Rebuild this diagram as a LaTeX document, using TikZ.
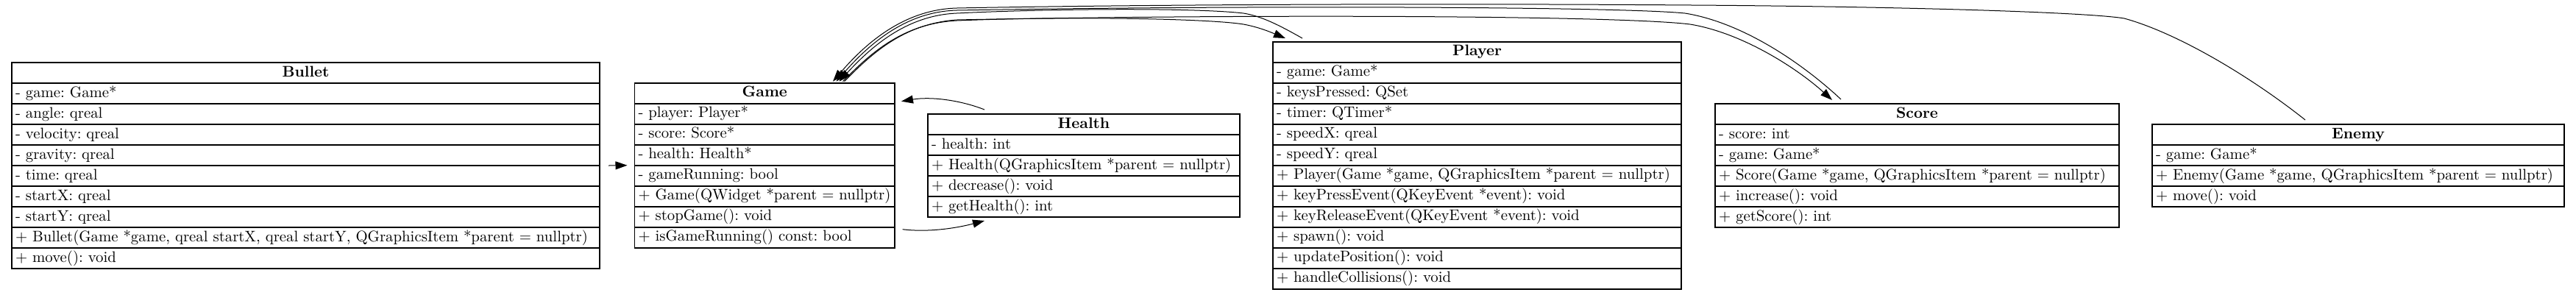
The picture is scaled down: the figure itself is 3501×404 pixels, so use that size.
\documentclass[tikz,border=0pt]{standalone}
\usetikzlibrary{arrows.meta}
\newcommand{\classbox}[6]{%
  \pgfmathsetmacro{\cbw}{#4*0.5}%
  \pgfmathsetmacro{\cbt}{#4*0.5-5}%
  \node[rowbox, hdr, align=center, minimum width=\cbw pt, text width=\cbt pt] (#1-0) at (#2,#3) {\mbox{#5}};
  \foreach \rowtxt [count=\i] in {#6} {%
    \node[rowbox, txt, align=left, minimum width=\cbw pt, text width=\cbt pt] (#1-\i) at (#2,#3+28*\i) {\mbox{\rowtxt}};
  }%
}
\frenchspacing
\begin{document}
\begin{tikzpicture}[x=0.5pt, y=-0.5pt,
  rowbox/.style={draw, rectangle, anchor=north west, outer sep=0pt, line width=0.8pt,
    minimum height=14pt, inner xsep=2.2pt, inner ysep=0pt, text height=7.3pt, text depth=2.2pt},
  txt/.style={font=\fontsize{10.4}{12.6}\selectfont\frenchspacing},
  hdr/.style={font=\fontsize{10.4}{12.6}\selectfont\bfseries},
  edge/.style={line width=0.5pt},
  arr/.style={-{Triangle[length=8pt,width=5.5pt]}}]
\path[fill=white] (0,0) rectangle (3501,404);
\useasboundingbox (0,0) rectangle (3501,404);

\classbox{bullet}{16}{85}{799}{Bullet}{- game: Game*, - angle: qreal, - velocity: qreal, - gravity: qreal, - time: qreal, - startX: qreal, - startY: qreal, {+ Bullet(Game *game, qreal startX, qreal startY, QGraphicsItem *parent = nullptr)}, + move(): void}
\classbox{game}{862.5}{112.7}{353.5}{Game}{- player: Player*, - score: Score*, - health: Health*, - gameRunning: bool, + Game(QWidget *parent = nullptr), + stopGame(): void, + isGameRunning() const: bool}
\classbox{health}{1261}{155}{424}{Health}{- health: int, + Health(QGraphicsItem *parent = nullptr), + decrease(): void, + getHealth(): int}
\classbox{player}{1730}{56.7}{555}{Player}{- game: Game*, - keysPressed: QSet, - timer: QTimer*, - speedX: qreal, - speedY: qreal, {+ Player(Game *game, QGraphicsItem *parent = nullptr)}, + keyPressEvent(QKeyEvent *event): void, + keyReleaseEvent(QKeyEvent *event): void, + spawn(): void, + updatePosition(): void, + handleCollisions(): void}
\classbox{score}{2331}{141}{549}{Score}{- score: int, - game: Game*, {+ Score(Game *game, QGraphicsItem *parent = nullptr)}, + increase(): void, + getScore(): int}
\classbox{enemy}{2925}{169}{560}{Enemy}{- game: Game*, {+ Enemy(Game *game, QGraphicsItem *parent = nullptr)}, + move(): void}

% Bullet -> Game
\draw[edge, arr] ([shift={(12,0)}]bullet-4.south east) -- ([shift={(-10,0)}]game-3.south west);
% Health -> Game
\draw[edge, arr] ([shift={(77,-6)}]health-0.north west) .. controls (1305,136) and (1265,131) .. ([shift={(9,-3)}]game-0.south east);
% Game -> Health
\draw[edge, arr] ([shift={(10.7,3)}]game-7.north east) .. controls (1262,316) and (1300,310) .. ([shift={(77,5)}]health-4.south west);
% Enemy -> Game
\draw[edge, arr] ([shift={(208,-6)}]enemy-0.north west) .. controls (3060,105) and (2960,45) .. (2887,25)
  .. controls (2840,17) and (2600,9) .. (2300,7) .. controls (1900,4) and (1500,7) .. (1300,11)
  .. controls (1225,13) and (1172,64) .. ([shift={(269.5,-2)}]game-0.north west);
% Score -> Game
\draw[edge, arr] ([shift={(171,-6)}]score-0.north west) .. controls (2445,82) and (2365,30) .. (2290,18)
  .. controls (2200,9) and (1700,7) .. (1300,14) .. controls (1227,16) and (1177,65) .. ([shift={(274,-2)}]game-0.north west);
% Player -> Game
\draw[edge, arr] ([shift={(40,-4.7)}]player-0.north west) .. controls (1740,35) and (1715,22) .. (1690,18)
  .. controls (1620,10) and (1420,12) .. (1300,18) .. controls (1230,21) and (1182,66) .. ([shift={(278,-2)}]game-0.north west);
% Game -> Player
\draw[edge, arr] ([shift={(283,-2)}]game-0.north west) .. controls (1187,68) and (1230,32) .. (1300,28)
  .. controls (1450,22) and (1640,25) .. (1690,33) .. controls (1712,37) and (1730,45) .. ([shift={(17,-4.7)}]player-0.north west);
% Game -> Score
\draw[edge, arr] ([shift={(285,-2)}]game-0.north west) .. controls (1189,68) and (1232,32) .. (1300,27)
  .. controls (1700,19) and (2200,21) .. (2297,33) .. controls (2370,45) and (2445,95) .. ([shift={(159,-5)}]score-0.north west);
\end{tikzpicture}
\end{document}
